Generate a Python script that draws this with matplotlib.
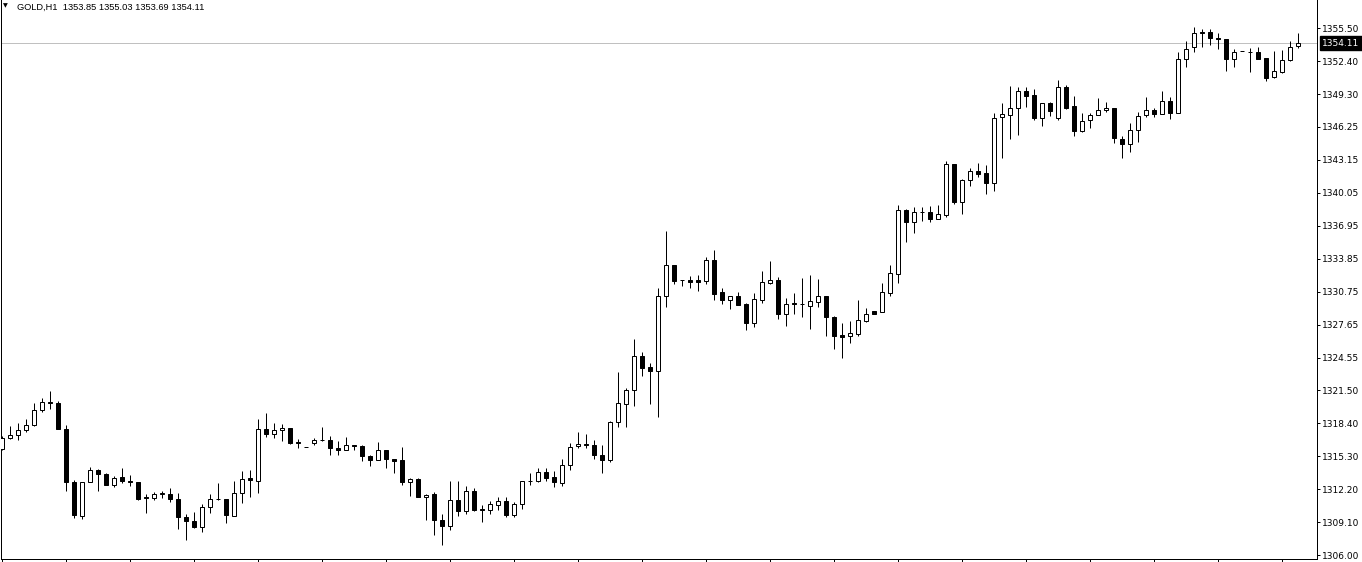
"""GOLD H1 candlestick chart, MetaTrader-style white template.

Outputs: out.png (1362x562)
"""

import matplotlib
matplotlib.use("Agg")
import matplotlib.pyplot as plt

SYMBOL = "GOLD,H1"

# OHLC per hourly bar, oldest first
OPENS = [
    1316.00, 1317.00, 1317.25, 1317.75, 1318.19, 1319.63, 1320.38, 1320.32, 1317.88, 1312.90,
    1309.65, 1312.84, 1314.03, 1313.62, 1312.56, 1313.34, 1313.00, 1312.87, 1311.46, 1311.34,
    1311.74, 1311.77, 1311.31, 1309.58, 1309.21, 1308.64, 1310.49, 1311.27, 1311.31, 1309.71,
    1311.80, 1313.28, 1312.96, 1317.85, 1317.38, 1317.72, 1317.94, 1316.66, 1316.16, 1316.59,
    1316.81, 1316.81, 1316.06, 1315.87, 1316.34, 1316.28, 1315.34, 1314.93, 1315.87, 1315.03,
    1314.93, 1312.87, 1313.18, 1311.43, 1311.74, 1309.33, 1308.71, 1311.21, 1310.11, 1312.05,
    1310.36, 1310.21, 1310.71, 1311.11, 1309.74, 1310.80, 1312.99, 1312.93, 1313.84, 1313.37,
    1312.74, 1314.43, 1316.25, 1316.47, 1316.37, 1315.43, 1314.99, 1318.50, 1320.19, 1321.51,
    1324.73, 1323.70, 1323.35, 1330.33, 1333.27, 1331.83, 1331.86, 1331.86, 1331.80, 1333.71,
    1330.74, 1330.02, 1330.33, 1329.61, 1327.86, 1330.02, 1331.61, 1331.83, 1328.70, 1329.70,
    1329.61, 1329.45, 1329.83, 1330.36, 1328.39, 1326.70, 1326.64, 1326.82, 1328.05, 1328.95,
    1328.83, 1330.68, 1332.46, 1338.41, 1337.35, 1338.22, 1338.22, 1337.63, 1338.00, 1342.73,
    1339.22, 1341.22, 1342.07, 1341.88, 1340.94, 1347.14, 1347.33, 1347.99, 1349.58, 1349.21,
    1347.11, 1348.46, 1347.11, 1349.96, 1348.17, 1345.89, 1346.86, 1347.33, 1347.80, 1347.99,
    1345.11, 1344.61, 1345.92, 1347.33, 1347.80, 1347.48, 1348.71, 1347.58, 1352.59, 1353.71,
    1355.12, 1355.12, 1354.62, 1354.50, 1352.59, 1353.34, 1353.28, 1353.28, 1352.68, 1350.96,
    1351.37, 1352.49, 1353.85,
]
HIGHS = [
    1317.16, 1318.16, 1318.41, 1318.82, 1320.29, 1320.76, 1321.45, 1320.51, 1318.25, 1313.09,
    1312.90, 1314.31, 1314.09, 1313.72, 1313.47, 1314.22, 1313.56, 1312.87, 1311.77, 1311.93,
    1311.99, 1312.31, 1311.84, 1309.90, 1310.08, 1310.84, 1311.77, 1312.81, 1311.31, 1312.99,
    1313.93, 1314.03, 1318.82, 1319.35, 1318.41, 1318.35, 1317.94, 1316.91, 1316.19, 1317.03,
    1318.06, 1317.22, 1316.75, 1317.13, 1316.34, 1316.37, 1315.44, 1316.66, 1315.87, 1315.03,
    1316.19, 1313.21, 1313.24, 1311.77, 1311.96, 1309.90, 1312.99, 1312.99, 1312.52, 1312.30,
    1310.74, 1311.11, 1311.49, 1311.49, 1310.99, 1312.99, 1313.74, 1314.21, 1314.21, 1313.93,
    1315.06, 1316.53, 1317.59, 1317.40, 1316.84, 1316.37, 1318.63, 1323.23, 1321.72, 1326.33,
    1325.10, 1324.07, 1331.08, 1336.47, 1333.27, 1331.85, 1332.24, 1332.33, 1334.02, 1334.68,
    1331.14, 1330.33, 1330.74, 1329.67, 1330.64, 1332.71, 1333.65, 1332.15, 1330.17, 1330.67,
    1332.05, 1332.36, 1331.96, 1330.36, 1328.48, 1327.83, 1328.05, 1329.99, 1329.23, 1328.95,
    1331.58, 1333.27, 1338.91, 1338.50, 1338.72, 1338.72, 1338.81, 1338.91, 1343.04, 1342.73,
    1341.35, 1342.35, 1342.82, 1342.63, 1347.52, 1348.49, 1350.08, 1349.95, 1349.95, 1349.80,
    1348.46, 1348.55, 1350.65, 1350.15, 1349.11, 1347.52, 1347.52, 1348.92, 1348.55, 1347.99,
    1345.39, 1346.61, 1347.67, 1349.02, 1348.02, 1349.58, 1349.02, 1353.24, 1354.28, 1355.65,
    1355.47, 1355.40, 1355.03, 1354.50, 1353.53, 1353.34, 1353.62, 1353.71, 1352.74, 1353.37,
    1353.46, 1354.28, 1355.03,
]
LOWS = [
    1315.91, 1316.91, 1316.78, 1317.53, 1318.10, 1319.41, 1319.73, 1317.82, 1312.06, 1309.46,
    1309.40, 1312.84, 1311.99, 1312.56, 1312.37, 1312.75, 1312.46, 1311.15, 1309.93, 1311.18,
    1311.37, 1310.99, 1308.43, 1307.46, 1308.55, 1308.14, 1309.99, 1311.18, 1309.00, 1309.64,
    1310.87, 1311.43, 1311.80, 1317.06, 1316.97, 1316.69, 1316.44, 1316.03, 1316.13, 1316.31,
    1316.72, 1315.37, 1315.37, 1315.84, 1315.87, 1314.87, 1314.34, 1314.90, 1314.15, 1313.68,
    1312.56, 1311.52, 1311.43, 1309.27, 1307.86, 1306.92, 1308.39, 1309.64, 1309.92, 1310.17,
    1309.08, 1309.92, 1310.24, 1309.61, 1309.55, 1310.36, 1312.62, 1312.84, 1312.99, 1312.43,
    1312.55, 1314.02, 1316.03, 1316.03, 1315.06, 1313.68, 1314.78, 1318.03, 1318.00, 1320.03,
    1322.88, 1320.22, 1318.94, 1329.36, 1331.52, 1331.33, 1331.14, 1330.86, 1331.52, 1329.99,
    1329.64, 1329.17, 1329.55, 1327.20, 1327.48, 1329.74, 1331.46, 1328.23, 1327.58, 1328.70,
    1328.42, 1327.29, 1329.36, 1326.64, 1325.42, 1324.57, 1325.95, 1326.64, 1327.92, 1328.70,
    1328.83, 1330.36, 1331.55, 1335.47, 1336.31, 1337.44, 1337.35, 1337.56, 1337.81, 1339.03,
    1338.07, 1340.72, 1341.57, 1339.97, 1340.25, 1343.35, 1345.10, 1345.51, 1348.14, 1346.86,
    1346.36, 1347.30, 1346.92, 1347.96, 1345.39, 1345.80, 1346.17, 1347.33, 1347.61, 1344.70,
    1343.29, 1343.92, 1344.86, 1347.20, 1347.20, 1347.48, 1347.02, 1347.52, 1351.84, 1353.28,
    1353.78, 1353.93, 1353.59, 1351.52, 1351.90, 1353.34, 1351.43, 1352.59, 1350.55, 1350.87,
    1351.27, 1352.43, 1353.69,
]
CLOSES = [
    1317.00, 1317.31, 1317.75, 1318.25, 1319.66, 1320.38, 1320.32, 1317.82, 1312.84, 1309.74,
    1312.90, 1314.00, 1313.62, 1312.62, 1313.25, 1312.93, 1312.84, 1311.31, 1311.34, 1311.77,
    1311.81, 1311.24, 1309.55, 1309.18, 1308.61, 1310.52, 1311.27, 1311.30, 1309.74, 1311.84,
    1313.15, 1313.03, 1317.85, 1317.38, 1317.75, 1317.97, 1316.59, 1316.53, 1316.16, 1316.81,
    1316.84, 1316.03, 1315.87, 1316.34, 1316.25, 1315.28, 1314.90, 1315.87, 1315.00, 1314.81,
    1312.87, 1313.18, 1311.43, 1311.68, 1309.27, 1308.74, 1311.21, 1310.11, 1312.05, 1310.27,
    1310.21, 1310.80, 1311.11, 1309.74, 1310.83, 1312.99, 1313.02, 1313.84, 1313.30, 1312.84,
    1314.49, 1316.18, 1316.47, 1316.31, 1315.37, 1314.90, 1318.53, 1320.28, 1321.54, 1324.70,
    1323.63, 1323.26, 1330.33, 1333.24, 1331.80, 1331.85, 1331.71, 1331.71, 1333.71, 1330.58,
    1330.02, 1330.33, 1329.55, 1327.86, 1330.05, 1331.64, 1331.83, 1328.70, 1329.58, 1329.58,
    1329.63, 1329.86, 1330.36, 1328.42, 1326.61, 1326.54, 1326.86, 1328.11, 1328.67, 1328.70,
    1330.71, 1332.49, 1338.41, 1337.35, 1338.22, 1338.24, 1337.63, 1338.03, 1342.73, 1339.22,
    1341.22, 1342.07, 1341.85, 1340.94, 1347.11, 1347.42, 1347.99, 1349.58, 1349.17, 1347.11,
    1348.46, 1347.77, 1349.96, 1348.05, 1345.89, 1346.83, 1347.33, 1347.80, 1347.99, 1345.17,
    1344.61, 1345.92, 1347.30, 1347.80, 1347.45, 1348.71, 1347.58, 1352.59, 1353.59, 1355.03,
    1355.03, 1354.62, 1354.46, 1352.59, 1353.28, 1353.34, 1353.30, 1352.65, 1350.87, 1351.46,
    1352.52, 1353.78, 1354.11,
]

PRICE_TICKS = [
    1306.00, 1309.10, 1312.20, 1315.30, 1318.40, 1321.50, 1324.55, 1327.65, 1330.75,
    1333.85, 1336.95, 1340.05, 1343.15, 1346.25, 1349.30, 1352.40, 1355.50,
]

PX = 0.72          # one pixel in points at dpi 100
BODY_W = 0.5       # candle body width in bar units
BAR_STEP = 8       # tick mark every 8 bars


def draw_candles(ax):
    x = list(range(len(OPENS)))
    # wicks first so bodies cover them
    ax.vlines(x, LOWS, HIGHS, color="black", linewidth=PX, zorder=2)
    bottoms = [min(o, c) for o, c in zip(OPENS, CLOSES)]
    heights = [abs(c - o) for o, c in zip(OPENS, CLOSES)]
    faces = ["white" if c >= o else "black" for o, c in zip(OPENS, CLOSES)]
    ax.bar(x, heights, bottom=bottoms, width=BODY_W, color=faces,
           edgecolor="black", linewidth=PX, zorder=3)


def main():
    fig = plt.figure(figsize=(13.62, 5.62), dpi=100)
    fig.patch.set_facecolor("white")
    ax = fig.add_axes([0.5 / 1362, 3 / 562, 1316.8 / 1362, 559 / 562])

    draw_candles(ax)

    last = CLOSES[-1]
    ax.axhline(last, color="#c0c0c0", linewidth=PX, zorder=1)

    ax.set_xlim(-0.125, 164.475)
    ax.set_ylim(1305.646, 1358.159)

    for side in ["left", "right", "bottom"]:
        ax.spines[side].set_linewidth(PX)
        ax.spines[side].set_color("black")
    ax.spines["top"].set_visible(False)

    ax.yaxis.tick_right()
    ax.set_yticks(PRICE_TICKS)
    ax.set_yticklabels([f"{p:.2f}" for p in PRICE_TICKS])
    ax.tick_params(axis="y", direction="out", length=3 * PX, width=PX,
                   pad=2 * PX, labelsize=6.5, colors="black")
    ax.set_xticks(range(0, len(OPENS), BAR_STEP))
    ax.tick_params(axis="x", direction="out", length=3 * PX, width=PX,
                   labelbottom=False)

    # current price tag on the scale
    ax.annotate(f"{last:.2f}", xy=(1.0, last), xycoords=ax.get_yaxis_transform(),
                xytext=(5, 0), textcoords="offset pixels", ha="left", va="center",
                fontsize=6.5, color="white", annotation_clip=False,
                bbox=dict(boxstyle="square,pad=0.25", fc="black", ec="black"))

    # header: symbol + OHLC of the last bar
    header = f"{SYMBOL}  {OPENS[-1]:.2f} {HIGHS[-1]:.2f} {LOWS[-1]:.2f} {CLOSES[-1]:.2f}"
    fig.text(16.7 / 1362, 1 - 10 / 562, header, fontsize=6.7,
             family="Liberation Sans", va="baseline", ha="left")
    fig.text(5.3 / 1362, 1 - 6 / 562, "\u25bc", fontsize=4.5,
             va="center", ha="center")

    fig.savefig("out.png", dpi=100)
    plt.close(fig)


if __name__ == "__main__":
    main()
